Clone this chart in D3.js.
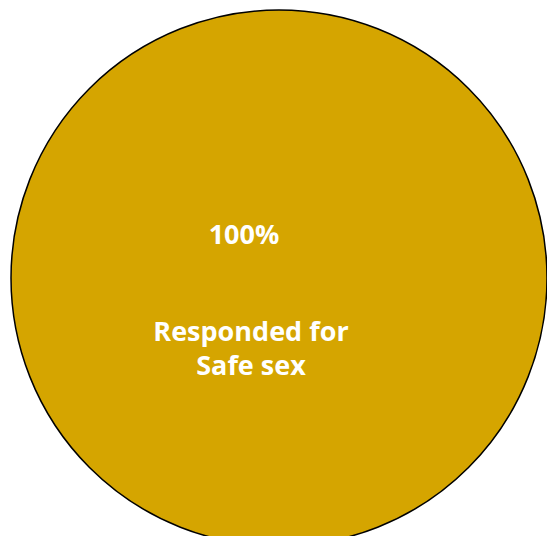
<!DOCTYPE html>
<html>
<head>
<meta charset="utf-8">
<script src="https://cdn.jsdelivr.net/npm/d3@7"></script>
<style>
  html, body { margin: 0; padding: 0; background: #ffffff; }
  svg { display: block; }
</style>
</head>
<body>
<svg id="chart" width="547" height="536"></svg>
<script>
const categories = ["Responded for Safe sex"];
const values = [100];
const labelLines = [["Responded for", "Safe sex"]];
const colors = ["#D5A500"];

const svg = d3.select("#chart");
const cx = 279, cy = 278, r = 268;

const pie = d3.pie().sort(null).value(d => d);
const arcs = pie(values);
const arc = d3.arc().innerRadius(0).outerRadius(r);

const g = svg.append("g").attr("transform", `translate(${cx},${cy})`);

g.selectAll("path.slice")
  .data(arcs)
  .join("path")
  .attr("class", "slice")
  .attr("d", arc)
  .attr("fill", (d, i) => colors[i])
  .attr("stroke", "#000")
  .attr("stroke-width", 1.5);

const total = d3.sum(values);
const fmt = d3.format(".0%");
const font = "'Open Sans', Lato, sans-serif";

arcs.forEach((d, i) => {
  const lbl = svg.append("g").attr("font-family", font).attr("font-weight", "bold")
    .attr("fill", "#ffffff").attr("font-size", 27);
  lbl.append("text")
    .attr("x", 244).attr("y", 244)
    .attr("text-anchor", "middle")
    .text(fmt(d.data / total));
  labelLines[i].forEach((line, j) => {
    lbl.append("text")
      .attr("x", 251).attr("y", 341 + j * 34)
      .attr("text-anchor", "middle")
      .text(line);
  });
});
</script>
</body>
</html>
